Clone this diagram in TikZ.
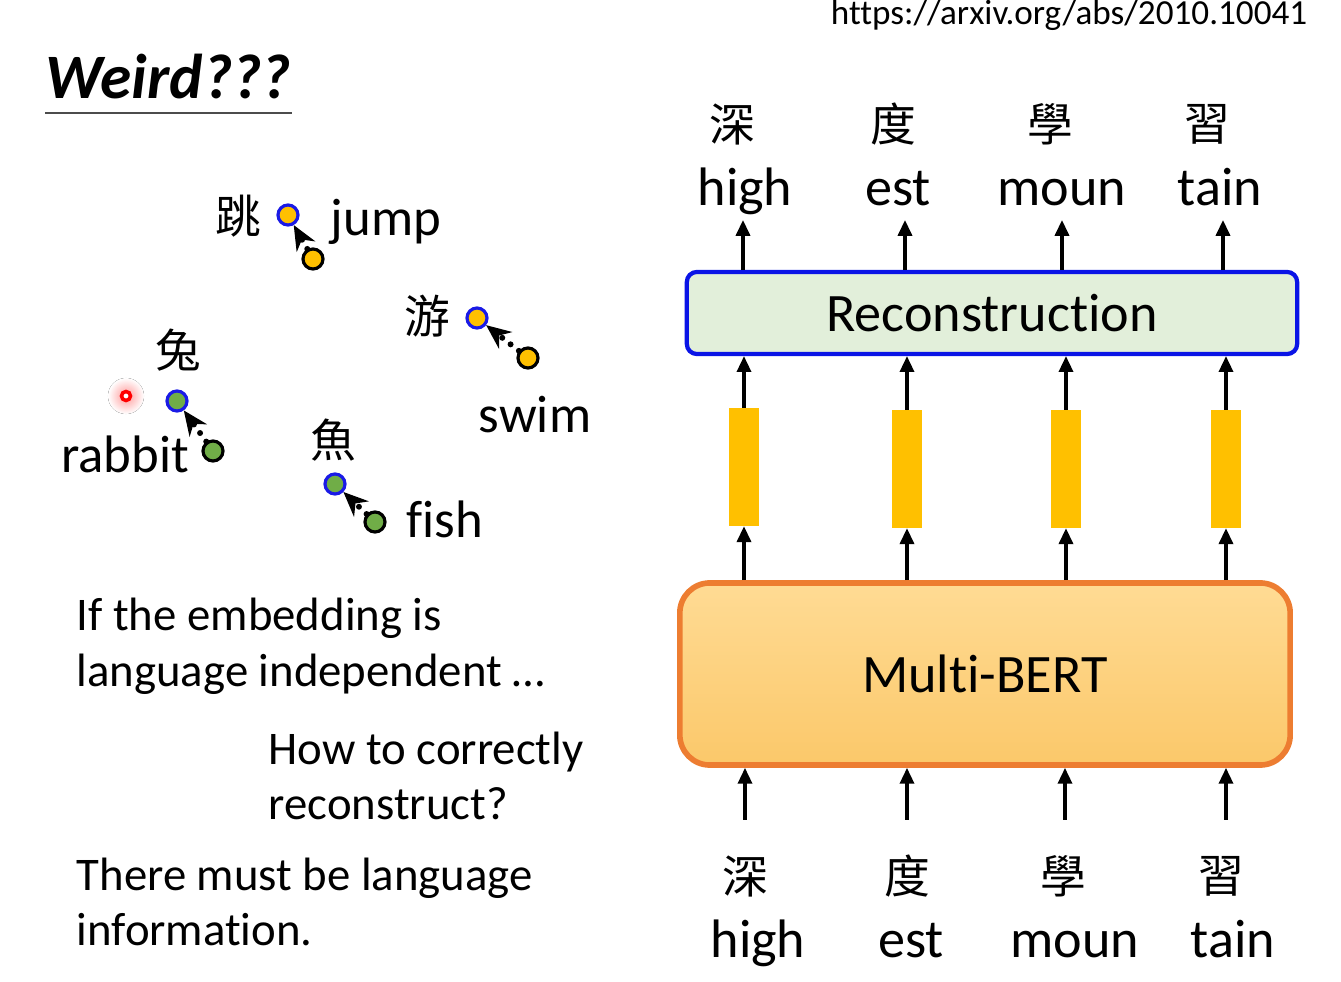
\documentclass[tikz,border=0pt]{standalone}
\usepackage{fontspec}
\setmainfont{Carlito}[Ligatures=NoCommon]
\newfontfamily\cjk{Noto Sans CJK TC}
\usepackage{tikz}
\usetikzlibrary{positioning,arrows.meta}

\definecolor{dotyellow}{HTML}{FFC000}
\definecolor{dotgreen}{HTML}{70AD47}
\definecolor{dotblue}{HTML}{1A1AE6}
\definecolor{recfill}{HTML}{E2EFDA}
\definecolor{recline}{HTML}{0A14E6}
\definecolor{bertline}{HTML}{ED7D31}
\definecolor{berttop}{HTML}{FFDB94}
\definecolor{bertbot}{HTML}{FBC86A}

\begin{document}
\begin{tikzpicture}[
  x=0.01cm, y=-0.01cm,
  word/.style={font=\fontsize{15.4}{18}\selectfont, anchor=base, inner sep=0pt},
  zh/.style={font=\cjk\fontsize{13}{15}\selectfont, inner sep=0pt},
  body/.style={font=\fontsize{13.3}{16}\selectfont, anchor=base west, inner sep=0pt},
  label/.style={font=\fontsize{15}{18}\selectfont, anchor=base, inner sep=0pt},
  dotnew/.style={circle, minimum size=0.2cm, inner sep=0pt, line width=0.9pt, draw=black},
  dotold/.style={circle, minimum size=0.2cm, inner sep=0pt, line width=0.9pt, draw=dotblue},
  move/.style={line width=1.7pt, dash pattern=on 0pt off 3pt, line cap=round,
               -{Stealth[length=7pt,width=6pt]}},
  vec/.style={fill=dotyellow, minimum width=0.3cm, minimum height=1.17cm, inner sep=0pt},
  arrow/.style={-{Triangle[length=4.5pt,width=4pt]}, line width=0.9pt}
]
\useasboundingbox (0,0) rectangle (1341,982);

% header
\node[font=\fontsize{10}{12}\selectfont, anchor=base east, inner sep=0pt] (url) at (1308,25) {https://arxiv.org/abs/2010.10041};
\node[font=\fontsize{18}{21}\selectfont\bfseries\itshape, anchor=south west,
      inner xsep=0pt, inner ysep=3.7pt] (ttl) at (45,113) {Weird???};
\draw[gray!60!black, line width=0.6pt] (ttl.south west) -- (ttl.south east);

% embedding space
\node[dotold, fill=dotyellow] (jumpZ) at (288,215) {};
\node[dotnew, fill=dotyellow] (jumpE) at (313,259) {};
\node[dotold, fill=dotyellow] (swimZ) at (477,318) {};
\node[dotnew, fill=dotyellow] (swimE) at (528,358) {};
\node[dotold, fill=dotgreen]  (rabZ)  at (177,401) {};
\node[dotnew, fill=dotgreen]  (rabE)  at (213,451) {};
\node[dotold, fill=dotgreen]  (fishZ) at (335,484) {};
\node[dotnew, fill=dotgreen]  (fishE) at (375,522) {};

\draw[move] (jumpE) -- (jumpZ);
\draw[move] (swimE) -- (swimZ);
\draw[move] (rabE)  -- (rabZ);
\draw[move] (fishE) -- (fishZ);

\node[zh] (jumpZl) at (238,216) {跳};
\node[zh] (swimZl) at (427,316) {游};
\node[zh] (rabZl)  at (178,350) {兔};
\node[zh] (fishZl) at (333,440) {魚};
\node[label] (jumpEl) at (386,236) {jump};
\node[label] (swimEl) at (535,433) {swim};
\node[label] (rabEl)  at (125,473) {rabbit};
\node[label] (fishEl) at (445,538) {fish};

% pointer
\fill[inner color=red!40, outer color=white] (126,396) circle (0.18cm);
\node[circle, draw=red, fill=white, line width=1pt, minimum size=0.09cm, inner sep=0pt] (ptr) at (126,396) {};

% notes
\node[body] (q1a) at (76,631) {If the embedding is};
\node[body] (q1b) at (76,687) {language independent …};
\node[body] (q2a) at (268,765) {How to correctly};
\node[body] (q2b) at (268,820) {reconstruct?};
\node[body] (q3a) at (76,891) {There must be language};
\node[body] (q3b) at (76,946) {information.};

% model
\node[draw=bertline, line width=1.6pt, rounded corners=0.3cm, top color=berttop, bottom color=bertbot,
      minimum width=6.1cm, minimum height=1.82cm, inner sep=0pt,
      font=\fontsize{15.4}{18}\selectfont] (mb) at (985,674) {Multi-BERT};
\node[draw=recline, line width=1.2pt, rounded corners=0.1cm, fill=recfill,
      minimum width=6.1cm, minimum height=0.82cm, inner sep=0pt,
      font=\fontsize{15.4}{18}\selectfont] (rec) at (992,313) {Reconstruction};

\node[vec] (bar1) at (744,467) {};
\node[vec] (bar2) at (907,469) {};
\node[vec] (bar3) at (1066,469) {};
\node[vec] (bar4) at (1226,469) {};

% input tokens
\node[zh] (inZ1) at (745,876) {深};
\node[zh] (inZ2) at (907,876) {度};
\node[zh] (inZ3) at (1063,876) {學};
\node[zh] (inZ4) at (1221,876) {習};
\node[word] (inE1) at (758,958) {high};
\node[word] (inE2) at (911,958) {est};
\node[word] (inE3) at (1075,958) {moun};
\node[word] (inE4) at (1233,958) {tain};

% output tokens
\node[zh] (outZ1) at (732,124) {深};
\node[zh] (outZ2) at (893,124) {度};
\node[zh] (outZ3) at (1050,124) {學};
\node[zh] (outZ4) at (1207,124) {習};
\node[word] (outE1) at (745,206) {high};
\node[word] (outE2) at (898,206) {est};
\node[word] (outE3) at (1062,206) {moun};
\node[word] (outE4) at (1220,206) {tain};

\coordinate (in1) at (745,820);
\coordinate (in2) at (907,820);
\coordinate (in3) at (1065,820);
\coordinate (in4) at (1226,820);
\coordinate (up1) at (743,220);
\coordinate (up2) at (905,220);
\coordinate (up3) at (1062,220);
\coordinate (up4) at (1223,220);

\draw[arrow] (in1) -- (in1 |- mb.south);
\draw[arrow] (in2) -- (in2 |- mb.south);
\draw[arrow] (in3) -- (in3 |- mb.south);
\draw[arrow] (in4) -- (in4 |- mb.south);

\draw[arrow] (bar1.south |- mb.north) -- (bar1.south);
\draw[arrow] (bar2.south |- mb.north) -- (bar2.south);
\draw[arrow] (bar3.south |- mb.north) -- (bar3.south);
\draw[arrow] (bar4.south |- mb.north) -- (bar4.south);

\draw[arrow] (bar1.north) -- (bar1.north |- rec.south);
\draw[arrow] (bar2.north) -- (bar2.north |- rec.south);
\draw[arrow] (bar3.north) -- (bar3.north |- rec.south);
\draw[arrow] (bar4.north) -- (bar4.north |- rec.south);

\draw[arrow] (up1 |- rec.north) -- (up1);
\draw[arrow] (up2 |- rec.north) -- (up2);
\draw[arrow] (up3 |- rec.north) -- (up3);
\draw[arrow] (up4 |- rec.north) -- (up4);
\end{tikzpicture}
\end{document}
